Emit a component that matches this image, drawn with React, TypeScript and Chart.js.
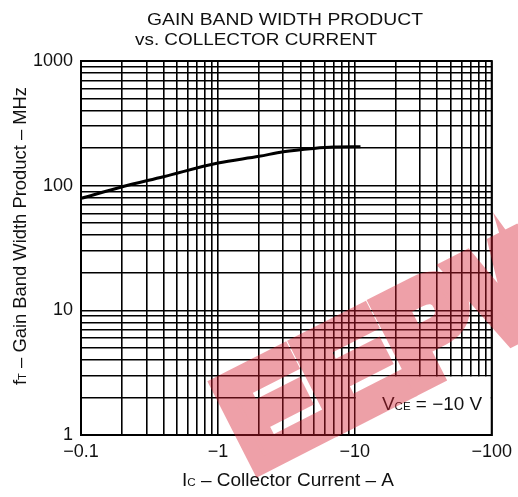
import React, { useEffect, useRef } from 'react';
import { Chart, registerables } from 'chart.js';

Chart.register(...registerables);

// ---- data ----
const collectorCurrentA = [0.1, 0.2, 0.4, 1, 2, 3, 5, 7, 11];
const gainBandwidthMHz = [79, 98, 118, 152, 172, 187, 199, 204, 205];

// ---- axes ----
const xGridValues = [0.1, 0.2, 0.3, 0.4, 0.5, 0.6, 0.7, 0.8, 0.9, 1, 2, 3, 4, 5, 6, 7, 8, 9, 10, 20, 30, 40, 50, 60, 70, 80, 90, 100];
const yGridValues = [1, 2, 3, 4, 5, 6, 7, 8, 9, 10, 20, 30, 40, 50, 60, 70, 80, 90, 100, 200, 300, 400, 500, 600, 700, 800, 900, 1000];
const xTickValues = [0.1, 1, 10, 100];
const xTickLabels = ['\u22120.1', '\u22121', '\u221210', '\u2212100'];
const yTickValues = [1, 10, 100, 1000];
const yTickLabels = ['1', '10', '100', '1000'];

// annotation box region (data units)
const noteBoxX = [10, 100];
const noteBoxY = [1, 3];

const FONT = '"Liberation Sans", Arial, Helvetica, sans-serif';

type Run = { t: string; size: number; dy?: number };

function drawRuns(ctx: CanvasRenderingContext2D, runs: Run[], cx: number, baseY: number, targetW: number, rot = 0) {
  ctx.save();
  ctx.translate(cx, baseY);
  if (rot) ctx.rotate(rot);
  let w = 0;
  const widths: number[] = [];
  for (const r of runs) {
    ctx.font = `${r.size}px ${FONT}`;
    const m = ctx.measureText(r.t).width;
    widths.push(m);
    w += m;
  }
  const s = targetW > 0 ? targetW / w : 1;
  ctx.scale(s, 1);
  ctx.fillStyle = '#111';
  ctx.textBaseline = 'alphabetic';
  ctx.textAlign = 'left';
  let x = -w / 2;
  runs.forEach((r, i) => {
    ctx.font = `${r.size}px ${FONT}`;
    ctx.fillText(r.t, x, r.dy || 0);
    x += widths[i];
  });
  ctx.restore();
}

function labelFor(values: number[], labels: string[], v: number) {
  const i = values.findIndex((t) => Math.abs(t - v) < t * 1e-6);
  return i >= 0 ? labels[i] : '';
}

const decorPlugin = {
  id: 'decor',
  beforeDatasetsDraw(chart: any) {
    const { ctx, chartArea, scales } = chart;
    const x = scales.x;
    const y = scales.y;
    const x0 = x.getPixelForValue(noteBoxX[0]);
    const x1 = x.getPixelForValue(noteBoxX[1]);
    const y0 = y.getPixelForValue(noteBoxY[0]);
    const y1 = y.getPixelForValue(noteBoxY[1]);
    ctx.save();
    ctx.fillStyle = '#fff';
    ctx.fillRect(x0 + 1, y1 + 1, x1 - x0 - 2, y0 - y1 - 2);
    ctx.strokeStyle = '#000';
    ctx.lineWidth = 2;
    ctx.strokeRect(chartArea.left, chartArea.top, chartArea.right - chartArea.left, chartArea.bottom - chartArea.top);
    ctx.restore();
  },
  afterDraw(chart: any) {
    const { ctx } = chart;
    // title
    drawRuns(ctx, [{ t: 'GAIN BAND WIDTH PRODUCT', size: 17 }], 285, 25, 276);
    drawRuns(ctx, [{ t: 'vs. COLLECTOR CURRENT', size: 17 }], 256, 45, 242);
    // y axis title
    drawRuns(
      ctx,
      [
        { t: 'f', size: 18 },
        { t: 'T', size: 11 },
        { t: ' \u2013 Gain Band Width Product \u2013 MHz', size: 18 },
      ],
      26,
      236,
      298,
      -Math.PI / 2
    );
    // x axis title
    drawRuns(
      ctx,
      [
        { t: 'I', size: 18 },
        { t: 'C', size: 11 },
        { t: ' \u2013 Collector Current \u2013 A', size: 18 },
      ],
      288,
      486,
      212
    );
    // annotation
    drawRuns(
      ctx,
      [
        { t: 'V', size: 18 },
        { t: 'CE', size: 11 },
        { t: ' = \u221210 V', size: 18 },
      ],
      432,
      410,
      100
    );
    // watermark (drawn opaque offscreen, then blended)
    const W = chart.width;
    const H = chart.height;
    const off = document.createElement('canvas');
    off.width = W;
    off.height = H;
    const o = off.getContext('2d');
    if (o) {
      o.translate(252, 471);
      o.rotate((-27 * Math.PI) / 180);
      o.font = `bold 134px ${FONT}`;
      o.fillStyle = 'rgb(214, 30, 48)';
      o.strokeStyle = 'rgb(214, 30, 48)';
      o.lineWidth = 16;
      o.lineJoin = 'miter';
      o.textBaseline = 'alphabetic';
      o.fillText('EEPW', 0, 0);
      o.strokeText('EEPW', 0, 0);
      ctx.save();
      ctx.globalAlpha = 0.42;
      ctx.drawImage(off, 0, 0, W, H);
      ctx.restore();
    }
  },
};

export default function App() {
  const ref = useRef<HTMLCanvasElement | null>(null);
  useEffect(() => {
    document.body.style.margin = '0';
    const canvas = ref.current;
    if (!canvas) return;
    const chart = new Chart(canvas, {
      type: 'line',
      data: {
        datasets: [
          {
            data: collectorCurrentA.map((c, i) => ({ x: c, y: gainBandwidthMHz[i] })),
            borderColor: '#000',
            borderWidth: 3,
            pointRadius: 0,
            cubicInterpolationMode: 'monotone',
            fill: false,
          },
        ],
      },
      options: {
        animation: false,
        responsive: true,
        maintainAspectRatio: false,
        layout: { padding: { top: 61, right: 24, left: 0, bottom: 0 } },
        plugins: { legend: { display: false }, title: { display: false }, tooltip: { enabled: false } },
        scales: {
          x: {
            type: 'logarithmic',
            min: 0.1,
            max: 100,
            afterBuildTicks: (s: any) => {
              s.ticks = xGridValues.map((v) => ({ value: v }));
            },
            afterFit: (s: any) => {
              s.height = 62;
            },
            ticks: {
              autoSkip: false,
              maxRotation: 0,
              padding: 6,
              color: '#111',
              font: { family: FONT, size: 18 },
              callback: (v: any) => labelFor(xTickValues, xTickLabels, Number(v)),
            },
            grid: { color: '#000', lineWidth: 1.6, drawTicks: false },
            border: { display: true, color: '#000', width: 2 },
          },
          y: {
            type: 'logarithmic',
            min: 1,
            max: 1000,
            afterBuildTicks: (s: any) => {
              s.ticks = yGridValues.map((v) => ({ value: v }));
            },
            afterFit: (s: any) => {
              s.width = 81;
            },
            ticks: {
              autoSkip: false,
              padding: 8,
              color: '#111',
              font: { family: FONT, size: 18 },
              callback: (v: any) => labelFor(yTickValues, yTickLabels, Number(v)),
            },
            grid: { color: '#000', lineWidth: 1.6, drawTicks: false },
            border: { display: true, color: '#000', width: 2 },
          },
        },
      },
      plugins: [decorPlugin],
    } as any);
    return () => chart.destroy();
  }, []);
  return (
    <div style={{ position: 'relative', width: 518, height: 497 }}>
      <canvas ref={ref} />
    </div>
  );
}
